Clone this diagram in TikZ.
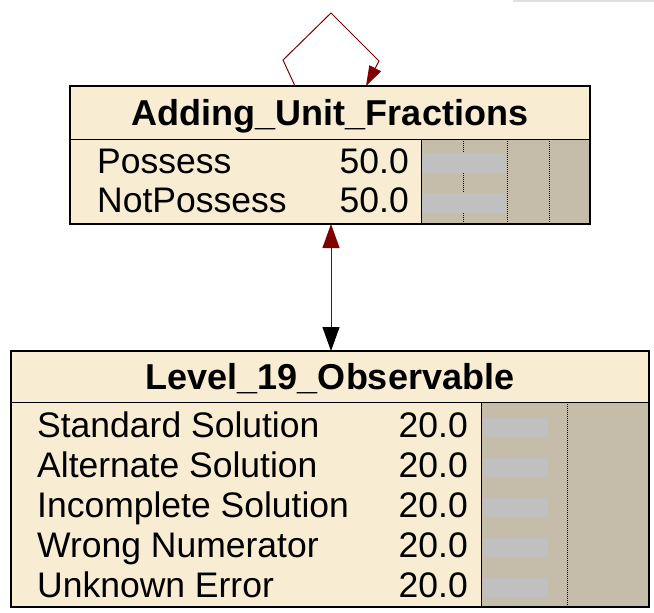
\documentclass[tikz,border=0pt]{standalone}
\usepackage{fontspec}
\setmainfont{Liberation Sans}
\usetikzlibrary{arrows.meta,calc}
\definecolor{nodecream}{RGB}{248,237,210}
\definecolor{bararea}{RGB}{197,189,170}
\definecolor{barfill}{RGB}{192,192,192}
\definecolor{linkred}{RGB}{128,0,0}
\begin{document}
\begin{tikzpicture}[x=1pt,y=-1pt,
  netbox/.style={fill=nodecream,inner sep=0pt,outer sep=0pt},
  boxborder/.style={draw=black,line width=1.5pt},
  titletext/.style={font=\fontsize{36}{36}\selectfont\bfseries,anchor=base,inner sep=0pt},
  labeltext/.style={font=\fontsize{35.5}{36}\selectfont,anchor=base west,inner sep=0pt},
  valuetext/.style={font=\fontsize{35.5}{36}\selectfont,anchor=base east,inner sep=0pt},
  sepline/.style={draw=black,line width=1pt},
  probbar/.style={fill=barfill},
  gridline/.style={draw=black,line width=1pt,dash pattern=on 1pt off 1pt},
  link/.style={draw=linkred,line width=1pt}
]
\useasboundingbox (0,0) rectangle (654,613);
\fill[white] (0,0) rectangle (654,613);
\draw[black!12, line width=2pt] (513,1) -- (654,1);

% ---------- Adding_Unit_Fractions ----------
\node[netbox, minimum width=520pt, minimum height=138pt] (auf) at (330,155) {};
\fill[bararea] (421,139) rectangle (590,224);
\draw[gridline] (463,139) -- (463,224);
\draw[gridline] (507,139) -- (507,224);
\draw[gridline] (549,139) -- (549,224);
\fill[probbar] (422,153) rectangle (506,173);
\fill[probbar] (422,193) rectangle (506,213);
\draw[sepline] (70,139) -- (590,139);
\draw[sepline] (421,139) -- (421,224);
\draw[boxborder] (auf.north west) rectangle (auf.south east);
\node[titletext] (auftitle) at (330,125) {Adding\_Unit\_Fractions};
\node[labeltext] (aufs1) at (97,173) {Possess};
\node[valuetext] (aufv1) at (409,173) {50.0};
\node[labeltext] (aufs2) at (97,212) {NotPossess};
\node[valuetext] (aufv2) at (409,212) {50.0};

% ---------- Level_19_Observable ----------
\node[netbox, minimum width=638pt, minimum height=256pt] (lvl) at (330,479) {};
\fill[bararea] (481,402) rectangle (649,607);
\draw[gridline] (567,402) -- (567,607);
\foreach \y in {418,458,498,538,578} {
  \fill[probbar] (483,\y) rectangle (548,\y+19);
}
\draw[sepline] (11,402) -- (649,402);
\draw[sepline] (481,402) -- (481,607);
\draw[boxborder] (lvl.north west) rectangle (lvl.south east);
\node[titletext] (lvltitle) at (330,389) {Level\_19\_Observable};
\node[labeltext] (lvls1) at (37,437) {Standard Solution};
\node[valuetext] (lvlv1) at (468,437) {20.0};
\node[labeltext] (lvls2) at (37,477) {Alternate Solution};
\node[valuetext] (lvlv2) at (468,477) {20.0};
\node[labeltext] (lvls3) at (37,517) {Incomplete Solution};
\node[valuetext] (lvlv3) at (468,517) {20.0};
\node[labeltext] (lvls4) at (37,557) {Wrong Numerator};
\node[valuetext] (lvlv4) at (468,557) {20.0};
\node[labeltext] (lvls5) at (37,597) {Unknown Error};
\node[valuetext] (lvlv5) at (468,597) {20.0};

% ---------- links ----------
\draw[link, {Triangle[length=24pt,width=17pt,color=linkred]}-{Triangle[length=24pt,width=17pt,color=black]}]
  ([xshift=1pt]auf.south) -- ([xshift=1pt]lvl.north);
\draw[link, -{Triangle[length=20pt,width=13pt]}]
  ([xshift=-35pt]auf.north) -- ++(-12,-26) -- ++(48,-47) -- ++(48,48) -- ([xshift=36pt]auf.north);
\end{tikzpicture}
\end{document}
